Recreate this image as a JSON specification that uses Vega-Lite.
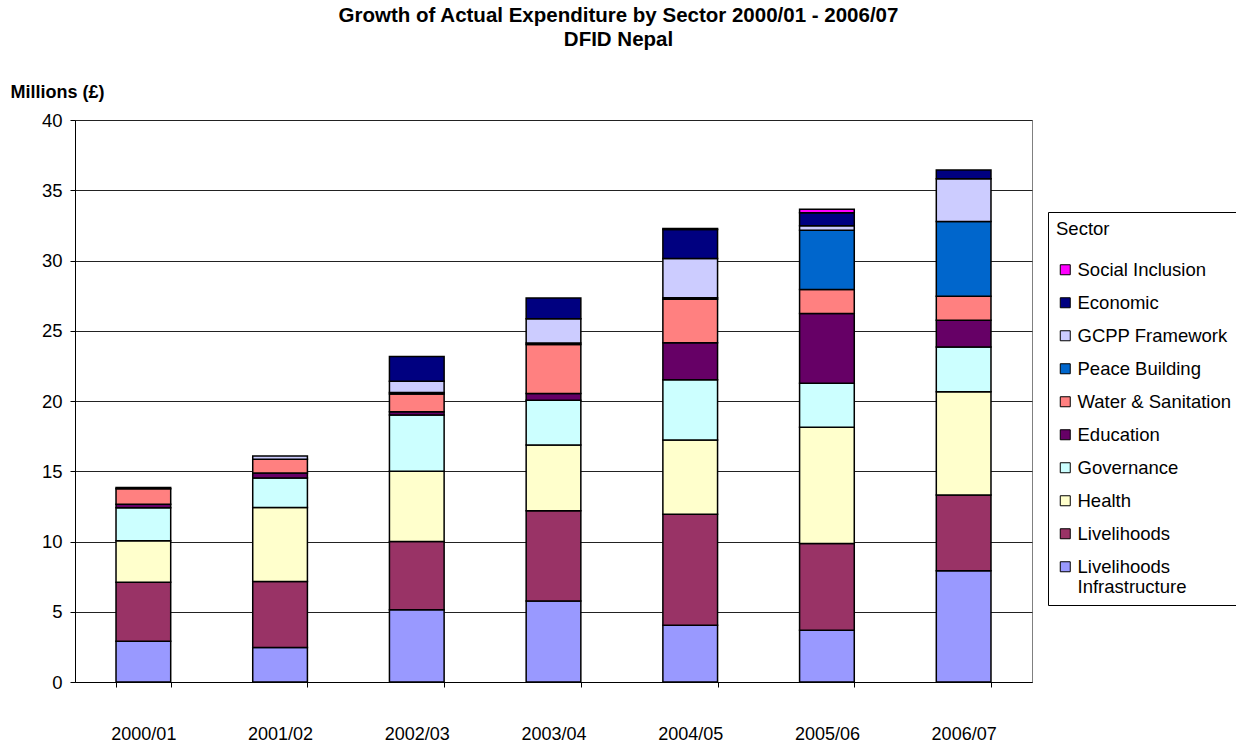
{
  "$schema": "https://vega.github.io/schema/vega-lite/v6.json",
  "width": 957,
  "height": 562,
  "autosize": "none",
  "padding": {"left": 75, "top": 120, "right": 204, "bottom": 62},
  "background": "white",
  "config": {
    "font": "Liberation Sans",
    "view": {"stroke": "#808080", "strokeWidth": 1}
  },
  "title": {
    "text": ["Growth of Actual Expenditure by Sector 2000/01 - 2006/07", "DFID Nepal"],
    "fontSize": 20.5,
    "fontWeight": "bold",
    "font": "Liberation Sans",
    "color": "#000",
    "anchor": "middle",
    "dx": 65,
    "offset": 33,
    "lineHeight": 24
  },
  "data": {
    "values": [
      {"year": "2000/01", "sector": "Livelihoods Infrastructure", "rank": 1, "value": 2.9},
      {"year": "2000/01", "sector": "Livelihoods", "rank": 2, "value": 4.2},
      {"year": "2000/01", "sector": "Health", "rank": 3, "value": 2.95},
      {"year": "2000/01", "sector": "Governance", "rank": 4, "value": 2.35},
      {"year": "2000/01", "sector": "Education", "rank": 5, "value": 0.25},
      {"year": "2000/01", "sector": "Water & Sanitation", "rank": 6, "value": 1.1},
      {"year": "2000/01", "sector": "Economic", "rank": 9, "value": 0.1},

      {"year": "2001/02", "sector": "Livelihoods Infrastructure", "rank": 1, "value": 2.45},
      {"year": "2001/02", "sector": "Livelihoods", "rank": 2, "value": 4.7},
      {"year": "2001/02", "sector": "Health", "rank": 3, "value": 5.27},
      {"year": "2001/02", "sector": "Governance", "rank": 4, "value": 2.1},
      {"year": "2001/02", "sector": "Education", "rank": 5, "value": 0.35},
      {"year": "2001/02", "sector": "Water & Sanitation", "rank": 6, "value": 0.98},
      {"year": "2001/02", "sector": "GCPP Framework", "rank": 8, "value": 0.24},

      {"year": "2002/03", "sector": "Livelihoods Infrastructure", "rank": 1, "value": 5.15},
      {"year": "2002/03", "sector": "Livelihoods", "rank": 2, "value": 4.85},
      {"year": "2002/03", "sector": "Health", "rank": 3, "value": 5.0},
      {"year": "2002/03", "sector": "Governance", "rank": 4, "value": 4.0},
      {"year": "2002/03", "sector": "Education", "rank": 5, "value": 0.24},
      {"year": "2002/03", "sector": "Water & Sanitation", "rank": 6, "value": 1.26},
      {"year": "2002/03", "sector": "Peace Building", "rank": 7, "value": 0.1},
      {"year": "2002/03", "sector": "GCPP Framework", "rank": 8, "value": 0.8},
      {"year": "2002/03", "sector": "Economic", "rank": 9, "value": 1.76},

      {"year": "2003/04", "sector": "Livelihoods Infrastructure", "rank": 1, "value": 5.76},
      {"year": "2003/04", "sector": "Livelihoods", "rank": 2, "value": 6.42},
      {"year": "2003/04", "sector": "Health", "rank": 3, "value": 4.68},
      {"year": "2003/04", "sector": "Governance", "rank": 4, "value": 3.19},
      {"year": "2003/04", "sector": "Education", "rank": 5, "value": 0.49},
      {"year": "2003/04", "sector": "Water & Sanitation", "rank": 6, "value": 3.48},
      {"year": "2003/04", "sector": "Peace Building", "rank": 7, "value": 0.1},
      {"year": "2003/04", "sector": "GCPP Framework", "rank": 8, "value": 1.74},
      {"year": "2003/04", "sector": "Economic", "rank": 9, "value": 1.47},

      {"year": "2004/05", "sector": "Livelihoods Infrastructure", "rank": 1, "value": 4.04},
      {"year": "2004/05", "sector": "Livelihoods", "rank": 2, "value": 7.9},
      {"year": "2004/05", "sector": "Health", "rank": 3, "value": 5.29},
      {"year": "2004/05", "sector": "Governance", "rank": 4, "value": 4.29},
      {"year": "2004/05", "sector": "Education", "rank": 5, "value": 2.62},
      {"year": "2004/05", "sector": "Water & Sanitation", "rank": 6, "value": 3.11},
      {"year": "2004/05", "sector": "Peace Building", "rank": 7, "value": 0.1},
      {"year": "2004/05", "sector": "GCPP Framework", "rank": 8, "value": 2.8},
      {"year": "2004/05", "sector": "Economic", "rank": 9, "value": 2.05},
      {"year": "2004/05", "sector": "Social Inclusion", "rank": 10, "value": 0.08},

      {"year": "2005/06", "sector": "Livelihoods Infrastructure", "rank": 1, "value": 3.68},
      {"year": "2005/06", "sector": "Livelihoods", "rank": 2, "value": 6.17},
      {"year": "2005/06", "sector": "Health", "rank": 3, "value": 8.29},
      {"year": "2005/06", "sector": "Governance", "rank": 4, "value": 3.13},
      {"year": "2005/06", "sector": "Education", "rank": 5, "value": 4.96},
      {"year": "2005/06", "sector": "Water & Sanitation", "rank": 6, "value": 1.71},
      {"year": "2005/06", "sector": "Peace Building", "rank": 7, "value": 4.22},
      {"year": "2005/06", "sector": "GCPP Framework", "rank": 8, "value": 0.32},
      {"year": "2005/06", "sector": "Economic", "rank": 9, "value": 0.92},
      {"year": "2005/06", "sector": "Social Inclusion", "rank": 10, "value": 0.25},

      {"year": "2006/07", "sector": "Livelihoods Infrastructure", "rank": 1, "value": 7.92},
      {"year": "2006/07", "sector": "Livelihoods", "rank": 2, "value": 5.39},
      {"year": "2006/07", "sector": "Health", "rank": 3, "value": 7.35},
      {"year": "2006/07", "sector": "Governance", "rank": 4, "value": 3.19},
      {"year": "2006/07", "sector": "Education", "rank": 5, "value": 1.89},
      {"year": "2006/07", "sector": "Water & Sanitation", "rank": 6, "value": 1.71},
      {"year": "2006/07", "sector": "Peace Building", "rank": 7, "value": 5.32},
      {"year": "2006/07", "sector": "GCPP Framework", "rank": 8, "value": 3.04},
      {"year": "2006/07", "sector": "Economic", "rank": 9, "value": 0.64}
    ]
  },
  "mark": {"type": "bar", "stroke": "#000", "strokeWidth": 1.5},
  "encoding": {
    "x": {
      "field": "year",
      "type": "ordinal",
      "scale": {"paddingInner": 0.6, "paddingOuter": 0.3},
      "axis": {
        "title": null,
        "labelAngle": 0,
        "labelFontSize": 18,
        "labelColor": "#000",
        "labelBaseline": "top",
        "labelPadding": 38,
        "tickBand": "extent",
        "tickSize": 5,
        "tickColor": "#000",
        "domainColor": "#000",
        "grid": false
      }
    },
    "y": {
      "field": "value",
      "type": "quantitative",
      "stack": "zero",
      "scale": {"domain": [0, 40], "nice": false},
      "axis": {
        "values": [0, 5, 10, 15, 20, 25, 30, 35, 40],
        "title": "Millions (£)",
        "titleAngle": 0,
        "titleAlign": "left",
        "titleBaseline": "middle",
        "titleX": -65,
        "titleY": -28,
        "titleFontSize": 18,
        "titleFontWeight": "bold",
        "titleColor": "#000",
        "labelFontSize": 18.5,
        "labelColor": "#000",
        "labelPadding": 8,
        "tickSize": 5,
        "tickColor": "#000",
        "domainColor": "#000",
        "gridColor": "#222",
        "gridWidth": 1
      }
    },
    "color": {
      "field": "sector",
      "type": "nominal",
      "scale": {
        "domain": ["Social Inclusion", "Economic", "GCPP Framework", "Peace Building", "Water & Sanitation", "Education", "Governance", "Health", "Livelihoods", "Livelihoods Infrastructure"],
        "range": ["#FF00FF", "#000080", "#CCCCFF", "#0066CC", "#FF8080", "#660066", "#CCFFFF", "#FFFFCC", "#993366", "#9999FF"]
      },
      "legend": {
        "title": "Sector",
        "orient": "none",
        "legendX": 973,
        "legendY": 92,
        "padding": 8,
        "strokeColor": "#000",
        "fillColor": "white",
        "titleFontSize": 18.5,
        "titleFontWeight": "normal",
        "titleColor": "#000",
        "titlePadding": 22,
        "labelFontSize": 18.5,
        "labelColor": "#000",
        "labelLimit": 220,
        "symbolType": "square",
        "symbolSize": 100,
        "symbolStrokeColor": "#000",
        "symbolStrokeWidth": 1,
        "symbolOpacity": 1,
        "rowPadding": 14,
        "labelOffset": 3,
        "labelExpr": "datum.label == 'Livelihoods Infrastructure' ? ['Livelihoods', 'Infrastructure'] : datum.label"
      }
    },
    "order": {"field": "rank", "type": "quantitative"},
    "tooltip": [
      {"field": "year"},
      {"field": "sector"},
      {"field": "value", "format": ".2f"}
    ]
  }
}
